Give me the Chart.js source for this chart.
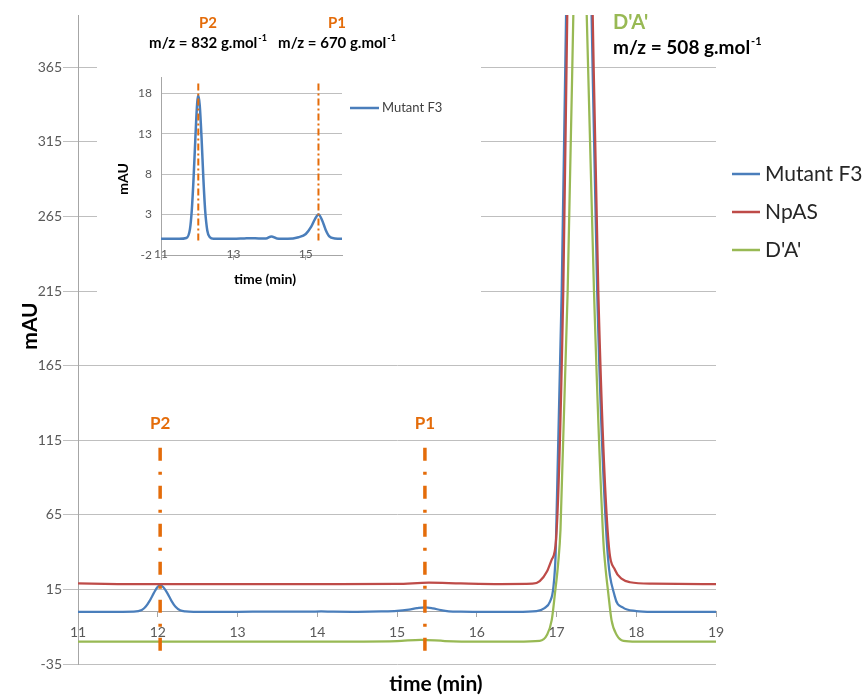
<!DOCTYPE html>
<html>
<head>
<meta charset="utf-8">
<title>HPLC chromatogram</title>
<script src="https://cdn.jsdelivr.net/npm/chart.js@4.4.1/dist/chart.umd.min.js"></script>
<style>
  html, body { margin: 0; padding: 0; background: #fff; }
  #wrap { position: relative; width: 865px; height: 695px; }
  #mainChart { position: absolute; left: 0; top: 0; }
  #insetChart { position: absolute; left: 97px; top: 55px; background: #fff; }
</style>
</head>
<body>
<div id="wrap">
  <canvas id="mainChart" width="865" height="695"></canvas>
  <canvas id="insetChart" width="384" height="240"></canvas>
</div>
<script>
// ---- data ----
const seriesNames = ["Mutant F3", "NpAS", "D'A'"];

const mutantTime = [11, 11.5, 11.7, 11.8, 11.85, 11.9, 11.95, 12.0, 12.03, 12.07,
  12.12, 12.17, 12.22, 12.28, 12.35, 12.45, 13.0, 13.3, 13.5, 13.7,
  13.9, 14.05, 14.2, 14.5, 14.8, 15.0, 15.15, 15.25, 15.35, 15.45,
  15.55, 15.65, 15.8, 16.0, 16.5, 16.75, 16.85, 16.92, 16.96, 16.99,
  17.065, 17.12, 17.28, 17.44, 17.51, 17.63, 17.73, 17.83, 18.0, 18.2, 19];
const mutantF3 = [0, 0, 0.1, 1.2, 3.5, 7.5, 12.5, 16.8, 17.7, 16.5,
  12.5, 7.5, 3.5, 1.0, 0.2, 0, 0, 0.05, 0.08, 0.05,
  0.05, 0.3, 0.05, 0, 0.2, 0.6, 1.5, 2.4, 3.0, 2.3,
  1.1, 0.3, 0.05, 0, 0, 0.5, 2.5, 7, 16, 40,
  215, 400, 870, 400, 215, 48, 10.5, 2.9, 0.5, 0, 0];

const npasTime = [11, 11.5, 12, 13, 14, 15, 15.4, 15.8, 16.3, 16.7,
  16.79, 16.88, 16.94, 16.994, 17.085, 17.135, 17.29, 17.454, 17.524, 17.65,
  17.734, 17.82, 17.922, 18.2, 19];
const npas = [19.0, 18.6, 18.5, 18.5, 18.6, 18.7, 19.5, 19.0, 18.6, 18.8,
  20.5, 27, 35, 48, 215, 400, 900, 400, 215, 48,
  28, 22, 19.8, 18.8, 18.6];

const daTime = [11, 12, 13, 14, 15, 15.3, 15.6, 16, 16.5, 16.79,
  16.88, 16.94, 16.98, 17.02, 17.05, 17.14, 17.211, 17.3, 17.379, 17.47,
  17.587, 17.61, 17.65, 17.69, 17.755, 17.84, 18.0, 19];
const da = [-20, -20, -20, -20, -19.6, -18.8, -19.6, -20, -20, -19.5,
  -15.6, -5.6, 12, 32, 55, 215, 400, 650, 400, 215,
  48, 32, 12, -5.6, -15.6, -19.5, -20, -20];

// product peaks marked with dash-dot lines
const peakNames = ["P2", "P1"];
const peakTimes = [12.03, 15.35];
const peakMasses = [832, 670];
const substrateMass = 508;

const mainYTicks = [-35, 15, 65, 115, 165, 215, 265, 315, 365];
const insetYTicks = [-2, 3, 8, 13, 18];
const insetXTicks = [11, 13, 15];

const BLUE = '#4a7ebb', RED = '#be4b48', GREEN = '#98b954', ORANGE = '#e46c0a';
const GRID = '#bfbfbf', AXIS = '#a6a6a6', TICKTXT = '#595959';
const FONT = 'Lato';

function pts(xs, ys) {
  return xs.map((t, i) => ({ x: t, y: ys[i] }));
}

function curve(label, xs, ys, color, order, width) {
  return {
    label: label,
    data: pts(xs, ys),
    borderColor: color,
    borderWidth: width,
    pointRadius: 0,
    cubicInterpolationMode: 'monotone',
    clip: 0,
    order: order
  };
}

function markerLine(t, top, bottom, dash, width) {
  return {
    label: 'marker',
    data: [{ x: t, y: top }, { x: t, y: bottom }],
    borderColor: ORANGE,
    borderWidth: width,
    borderDash: dash,
    borderCapStyle: 'butt',
    pointRadius: 0,
    clip: 0,
    order: 0
  };
}

function drawMass(ctx, mass, x, y, size, align) {
  const base = 'm/z = ' + mass + ' g.mol';
  const big = 'bold ' + size + 'px ' + FONT;
  const small = 'bold ' + Math.round(size * 0.6) + 'px ' + FONT;
  ctx.font = big;
  const w1 = ctx.measureText(base).width;
  ctx.font = small;
  const w2 = ctx.measureText('-1').width;
  const left = align === 'left' ? x : x - (w1 + w2 + 1) / 2;
  ctx.textAlign = 'left';
  ctx.textBaseline = 'middle';
  ctx.font = big;
  ctx.fillText(base, left, y);
  ctx.font = small;
  ctx.fillText('-1', left + w1 + 1, y - size * 0.32);
}

/* ================= MAIN CHART ================= */

const mainText = {
  id: 'mainText',
  afterDatasetsDraw(chart) {
    const { ctx, scales: { x, y } } = chart;
    ctx.save();
    ctx.fillStyle = '#000';
    ctx.font = 'bold 21px ' + FONT;
    ctx.textAlign = 'center';
    ctx.textBaseline = 'middle';
    ctx.fillText('time (min)', 436, 684);
    ctx.save();
    ctx.translate(30, 326);
    ctx.rotate(-Math.PI / 2);
    ctx.fillText('mAU', 0, 0);
    ctx.restore();

    // labels over the dash-dot lines
    ctx.fillStyle = ORANGE;
    ctx.font = 'bold 17px ' + FONT;
    peakTimes.forEach((t, i) => {
      ctx.fillText(peakNames[i], x.getPixelForValue(t), y.getPixelForValue(126));
    });

    // masses on top
    const topCols = [208, 337];
    peakNames.forEach((n, i) => {
      ctx.fillStyle = ORANGE;
      ctx.font = 'bold 15px ' + FONT;
      ctx.textAlign = 'center';
      ctx.fillText(n, topCols[i], 23);
      ctx.fillStyle = '#000';
      drawMass(ctx, peakMasses[i], topCols[i], 43, 15, 'center');
    });
    ctx.fillStyle = GREEN;
    ctx.font = 'bold 20px ' + FONT;
    ctx.textAlign = 'left';
    ctx.fillText(seriesNames[2], 613, 23);
    ctx.fillStyle = '#000';
    drawMass(ctx, substrateMass, 613, 48, 19, 'left');

    // legend
    const colors = [BLUE, RED, GREEN];
    const rows = [174, 212, 250];
    ctx.lineWidth = 2.5;
    ctx.font = '21px ' + FONT;
    ctx.textAlign = 'left';
    seriesNames.forEach((n, i) => {
      ctx.strokeStyle = colors[i];
      ctx.beginPath();
      ctx.moveTo(732, rows[i]);
      ctx.lineTo(760, rows[i]);
      ctx.stroke();
      ctx.fillStyle = '#262626';
      ctx.fillText(n, 765, rows[i]);
    });
    ctx.restore();
  }
};

new Chart(document.getElementById('mainChart'), {
  type: 'line',
  data: {
    datasets: [
      markerLine(peakTimes[0], 110, -29, [13, 11, 3, 11], 3.5),
      markerLine(peakTimes[1], 110, -29, [13, 11, 3, 11], 3.5),
      curve(seriesNames[2], daTime, da, GREEN, 1, 2.25),
      curve(seriesNames[1], npasTime, npas, RED, 2, 2.25),
      curve(seriesNames[0], mutantTime, mutantF3, BLUE, 3, 2.25)
    ]
  },
  options: {
    responsive: false,
    animation: false,
    layout: { padding: { left: 0, top: 15, right: 149, bottom: 31 } },
    scales: {
      x: {
        type: 'linear',
        min: 11,
        max: 19,
        position: { y: 0 },
        grid: { drawOnChartArea: false, tickLength: 5, color: AXIS },
        border: { color: AXIS },
        ticks: { stepSize: 1, padding: 7, color: TICKTXT, font: { family: FONT, size: 14 }, maxRotation: 0 }
      },
      y: {
        min: -35,
        max: 400,
        afterBuildTicks: s => { s.ticks = mainYTicks.map(v => ({ value: v })); },
        afterFit: s => { s.width = 78; },
        grid: { tickLength: 15, color: GRID },
        border: { color: AXIS },
        ticks: { padding: 1, color: TICKTXT, font: { family: FONT, size: 14 } }
      }
    },
    plugins: { legend: { display: false }, tooltip: { enabled: false } }
  },
  plugins: [mainText]
});

/* ================= INSET ================= */

const insetText = {
  id: 'insetText',
  afterDatasetsDraw(chart) {
    const { ctx } = chart;
    ctx.save();
    ctx.fillStyle = '#000';
    ctx.font = 'bold 14px ' + FONT;
    ctx.textAlign = 'center';
    ctx.textBaseline = 'middle';
    ctx.fillText('time (min)', 168, 224);
    ctx.save();
    ctx.translate(26, 124);
    ctx.rotate(-Math.PI / 2);
    ctx.fillText('mAU', 0, 0);
    ctx.restore();

    ctx.strokeStyle = BLUE;
    ctx.lineWidth = 2.5;
    ctx.beginPath();
    ctx.moveTo(253, 53);
    ctx.lineTo(282, 53);
    ctx.stroke();
    ctx.fillStyle = '#404040';
    ctx.font = '13px ' + FONT;
    ctx.textAlign = 'left';
    ctx.fillText(seriesNames[0], 285, 53);
    ctx.restore();
  }
};

new Chart(document.getElementById('insetChart'), {
  type: 'line',
  data: {
    datasets: [
      markerLine(peakTimes[0], 19.2, -0.3, [7, 3, 2, 3], 2),
      markerLine(peakTimes[1], 19.2, -0.3, [7, 3, 2, 3], 2),
      curve(seriesNames[0], mutantTime, mutantF3, BLUE, 1, 2.5)
    ]
  },
  options: {
    responsive: false,
    animation: false,
    layout: { padding: { left: 0, top: 22, right: 139, bottom: 40 } },
    scales: {
      x: {
        type: 'linear',
        min: 11,
        max: 16,
        position: { y: -2 },
        afterBuildTicks: s => { s.ticks = insetXTicks.map(v => ({ value: v })); },
        grid: { drawOnChartArea: false, tickLength: 4, color: AXIS },
        border: { color: AXIS },
        ticks: { padding: -12, color: TICKTXT, font: { family: FONT, size: 12 }, maxRotation: 0, autoSkip: false }
      },
      y: {
        min: -2,
        max: 20,
        afterBuildTicks: s => { s.ticks = insetYTicks.map(v => ({ value: v })); },
        afterFit: s => { s.width = 64; },
        grid: { drawTicks: false, color: GRID },
        border: { color: AXIS },
        ticks: { padding: 9, color: TICKTXT, font: { family: FONT, size: 12 } }
      }
    },
    plugins: { legend: { display: false }, tooltip: { enabled: false } }
  },
  plugins: [insetText]
});
</script>
</body>
</html>
